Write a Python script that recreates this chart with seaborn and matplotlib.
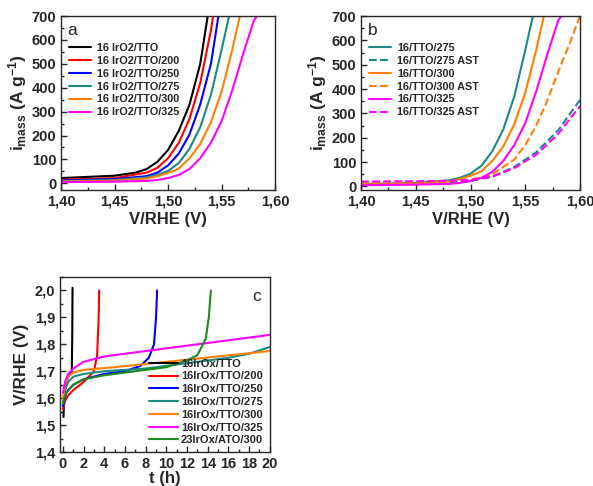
import numpy as np
import pandas as pd
import matplotlib
matplotlib.use('Agg')
import matplotlib.pyplot as plt
import matplotlib.ticker as mticker
import seaborn as sns

sns.set_theme(style='ticks')
plt.rcParams['font.family'] = ['Liberation Sans', 'DejaVu Sans']
plt.rcParams['font.weight'] = 'bold'
plt.rcParams['axes.labelweight'] = 'bold'
plt.rcParams['mathtext.fontset'] = 'custom'
plt.rcParams['mathtext.rm'] = 'Liberation Sans:bold'
plt.rcParams['mathtext.bf'] = 'Liberation Sans:bold'
plt.rcParams['mathtext.default'] = 'bf'

# ---- panel a: polarisation curves ----
a_labels = ['16 IrO2/TTO', '16 IrO2/TTO/200', '16 IrO2/TTO/250',
            '16 IrO2/TTO/275', '16 IrO2/TTO/300', '16 IrO2/TTO/325']
a_colors = ['black', '#ff0000', '#0000ff', '#1b8a84', '#ff8000', '#ff00ff']
a_v = [
    [1.40, 1.45, 1.47, 1.48, 1.49, 1.50, 1.51, 1.52, 1.53, 1.537],
    [1.40, 1.45, 1.48, 1.49, 1.50, 1.51, 1.52, 1.53, 1.54, 1.542],
    [1.40, 1.45, 1.48, 1.49, 1.50, 1.51, 1.52, 1.53, 1.54, 1.547],
    [1.40, 1.45, 1.48, 1.49, 1.50, 1.51, 1.52, 1.53, 1.54, 1.55, 1.557],
    [1.40, 1.45, 1.48, 1.49, 1.50, 1.505, 1.51, 1.52, 1.53, 1.54, 1.55, 1.56, 1.567],
    [1.40, 1.45, 1.48, 1.49, 1.50, 1.51, 1.52, 1.53, 1.54, 1.55, 1.56, 1.57, 1.58, 1.583],
]
a_i = [
    [22, 32, 45, 60, 90, 140, 220, 330, 500, 700],
    [15, 22, 45, 65, 105, 170, 270, 420, 640, 700],
    [12, 18, 30, 45, 75, 125, 205, 330, 500, 700],
    [10, 14, 25, 35, 52, 85, 145, 235, 370, 560, 700],
    [7, 11, 20, 30, 44, 52, 62, 105, 165, 255, 385, 560, 700],
    [5, 7, 10, 14, 22, 35, 60, 105, 170, 260, 390, 540, 680, 700],
]

# ---- panel b: before / after AST ----
b_labels = ['16/TTO/275', '16/TTO/275 AST', '16/TTO/300',
            '16/TTO/300 AST', '16/TTO/325', '16/TTO/325 AST']
b_colors = ['#1b8a84', '#1b8a84', '#ff8000', '#ff8000', '#ff00ff', '#ff00ff']
b_dash = [False, True, False, True, False, True]
b_v = [
    [1.40, 1.45, 1.48, 1.49, 1.50, 1.51, 1.52, 1.53, 1.54, 1.55, 1.557],
    [1.40, 1.45, 1.48, 1.50, 1.52, 1.54, 1.56, 1.58, 1.60],
    [1.40, 1.45, 1.48, 1.49, 1.50, 1.505, 1.51, 1.52, 1.53, 1.54, 1.55, 1.56, 1.567],
    [1.40, 1.45, 1.48, 1.50, 1.52, 1.54, 1.55, 1.56, 1.57, 1.58, 1.59, 1.60],
    [1.40, 1.45, 1.48, 1.49, 1.50, 1.51, 1.52, 1.53, 1.54, 1.55, 1.56, 1.57, 1.58, 1.583],
    [1.40, 1.45, 1.48, 1.50, 1.52, 1.54, 1.56, 1.58, 1.60],
]
b_i = [
    [10, 14, 25, 35, 52, 85, 145, 235, 370, 560, 700],
    [5, 10, 15, 22, 40, 80, 140, 230, 355],
    [7, 11, 20, 30, 44, 52, 62, 105, 165, 255, 385, 560, 700],
    [14, 18, 22, 27, 50, 110, 170, 250, 350, 470, 580, 700],
    [5, 7, 10, 14, 22, 35, 60, 105, 170, 260, 390, 540, 680, 700],
    [20, 21, 23, 26, 40, 75, 130, 215, 330],
]

# ---- panel c: chronopotentiometry ----
c_labels = ['16IrOx/TTO', '16IrOx/TTO/200', '16IrOx/TTO/250', '16IrOx/TTO/275',
            '16IrOx/TTO/300', '16IrOx/TTO/325', '23IrOx/ATO/300']
c_colors = ['black', '#ff0000', '#0000ff', '#1b8a84', '#ff8000', '#ff00ff', '#1e8a1e']
c_t = [
    [0.05, 0.1, 0.3, 0.6, 0.85, 0.9, 0.92],
    [0.0, 0.2, 0.5, 1.0, 2.0, 3.0, 3.3, 3.45, 3.5],
    [0.0, 0.3, 1.0, 2.0, 4.0, 6.0, 7.5, 8.3, 8.8, 9.0, 9.1],
    [0.0, 0.2, 0.5, 1.0, 2.0, 4.0, 8.0, 12.0, 16.0, 18.0, 20.0],
    [0.0, 0.2, 0.5, 1.0, 2.0, 5.0, 10.0, 15.0, 20.0],
    [0.0, 0.2, 0.5, 1.0, 2.0, 4.0, 8.0, 12.0, 16.0, 20.0],
    [0.0, 0.2, 0.5, 1.0, 2.0, 4.0, 8.0, 10.0, 12.0, 13.0, 13.8, 14.1, 14.3],
]
c_e = [
    [1.53, 1.60, 1.66, 1.69, 1.70, 1.85, 2.01],
    [1.56, 1.59, 1.61, 1.63, 1.66, 1.70, 1.76, 1.90, 2.00],
    [1.57, 1.62, 1.65, 1.67, 1.69, 1.70, 1.72, 1.75, 1.80, 1.90, 2.00],
    [1.58, 1.63, 1.66, 1.68, 1.69, 1.70, 1.71, 1.73, 1.75, 1.765, 1.79],
    [1.60, 1.65, 1.68, 1.695, 1.705, 1.715, 1.735, 1.755, 1.775],
    [1.62, 1.66, 1.69, 1.71, 1.735, 1.755, 1.775, 1.795, 1.815, 1.835],
    [1.58, 1.61, 1.63, 1.65, 1.67, 1.685, 1.705, 1.715, 1.74, 1.76, 1.82, 1.90, 2.00],
]

comma = mticker.FuncFormatter(lambda v, p: f'{v:.2f}'.replace('.', ','))
comma1 = mticker.FuncFormatter(lambda v, p: f'{v:.1f}'.replace('.', ','))

fig = plt.figure(figsize=(5.93, 4.86), dpi=100)
ax_a = fig.add_axes([0.103, 0.609, 0.361, 0.358])
ax_b = fig.add_axes([0.609, 0.609, 0.369, 0.358])
ax_c = fig.add_axes([0.101, 0.070, 0.354, 0.360])


def style(ax):
    ax.tick_params(direction='in', which='both', labelsize=10.5, width=1)
    ax.tick_params(which='major', length=4)
    ax.tick_params(which='minor', length=2)
    for s in ax.spines.values():
        s.set_linewidth(1)
    for lab in ax.get_xticklabels() + ax.get_yticklabels():
        lab.set_fontweight('bold')


for lab, col, v, i in zip(a_labels, a_colors, a_v, a_i):
    sns.lineplot(x=v, y=i, ax=ax_a, color=col, label=lab, lw=1.5,
                 sort=False, estimator=None)
for lab, col, d, v, i in zip(b_labels, b_colors, b_dash, b_v, b_i):
    sns.lineplot(x=v, y=i, ax=ax_b, color=col, label=lab, lw=1.5,
                 ls='--' if d else '-', sort=False, estimator=None)
for lab, col, t, e in zip(c_labels, c_colors, c_t, c_e):
    sns.lineplot(x=t, y=e, ax=ax_c, color=col, label=lab, lw=1.5,
                 sort=False, estimator=None)

for ax, ymin, letter in [(ax_a, -28, 'a'), (ax_b, -15, 'b')]:
    ax.set_xlim(1.40, 1.60)
    ax.set_ylim(ymin, 700)
    ax.xaxis.set_major_locator(mticker.MultipleLocator(0.05))
    ax.xaxis.set_minor_locator(mticker.MultipleLocator(0.025))
    ax.yaxis.set_major_locator(mticker.MultipleLocator(100))
    ax.yaxis.set_minor_locator(mticker.MultipleLocator(50))
    ax.xaxis.set_major_formatter(comma)
    ax.set_xlabel('V/RHE (V)', fontsize=12, fontweight='bold', labelpad=2)
    ax.set_ylabel(r'i$_{mass}$ (A g$^{-1}$)', fontsize=12.5, fontweight='bold', labelpad=2)
    ax.text(0.03, 0.96, letter, transform=ax.transAxes, fontsize=12.5,
            va='top', ha='left', fontweight='normal')
    ax.legend(loc='upper left', bbox_to_anchor=(0.0, 0.89), frameon=False,
              prop={'size': 7.8, 'weight': 'bold'}, handlelength=2.1,
              labelspacing=0.27, borderaxespad=0.3, handletextpad=0.5)
    style(ax)

ax_c.set_xlim(-0.3, 20)
ax_c.set_ylim(1.4, 2.05)
ax_c.xaxis.set_major_locator(mticker.MultipleLocator(2))
ax_c.xaxis.set_minor_locator(mticker.MultipleLocator(1))
ax_c.yaxis.set_major_locator(mticker.MultipleLocator(0.1))
ax_c.yaxis.set_minor_locator(mticker.MultipleLocator(0.05))
ax_c.yaxis.set_major_formatter(comma1)
ax_c.set_xlabel('t (h)', fontsize=12, fontweight='bold', labelpad=0)
ax_c.set_ylabel('V/RHE (V)', fontsize=12.5, fontweight='bold', labelpad=4)
ax_c.text(0.96, 0.93, 'c', transform=ax_c.transAxes, fontsize=12.5,
          va='top', ha='right', fontweight='normal')
ax_c.legend(loc='lower right', frameon=False,
            prop={'size': 8.0, 'weight': 'bold'}, handlelength=2.6,
            labelspacing=0.25, borderaxespad=0.2, handletextpad=0.3)
style(ax_c)

fig.savefig('out.png', dpi=100, facecolor='white')
